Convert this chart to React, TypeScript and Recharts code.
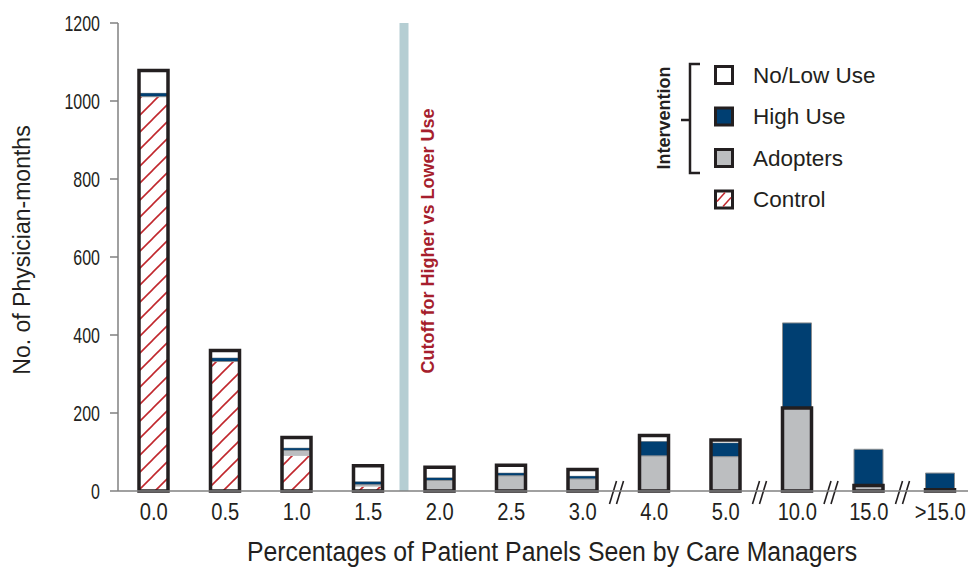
import { BarChart, Bar, XAxis, YAxis, ReferenceLine, Label } from "recharts";

const categories = ["0.0", "0.5", "1.0", "1.5", "2.0", "2.5", "3.0", "4.0", "5.0", "10.0", "15.0", ">15.0"];
const controlValues = [1011, 332, 90, 11, 0, 0, 0, 0, 0, 0, 0, 0];
const adopterValues = [0, 0, 14, 5, 27, 39, 31, 90, 88, 213, 14, 3];
const highUseValues = [10, 10, 7, 9, 8, 8, 8, 38, 36, 218, 93, 43];
const lowUseValues = [57, 18, 26, 40, 26, 19, 16, 14, 7, 0, 0, 0];
const yTicks = [0, 200, 400, 600, 800, 1000, 1200];
const axisBreaks = ["3.0", "5.0", "10.0", "15.0"];
const cutoffAfter = "1.5";

const legendItems = [
  { name: "No/Low Use", fill: "#ffffff" },
  { name: "High Use", fill: "#003f72" },
  { name: "Adopters", fill: "#bcbec0" },
  { name: "Control", fill: "hatch" },
];

const INK = "#231f20";
const BLUE = "#003f72";
const GRAY = "#bcbec0";
const RED = "#a61e2d";
const SANS = "'Liberation Sans', Arial, sans-serif";

const data = categories.map((cat, i) => {
  const total = controlValues[i] + adopterValues[i] + highUseValues[i] + lowUseValues[i];
  return {
    cat,
    control: controlValues[i],
    adopters: adopterValues[i],
    high: highUseValues[i],
    low: lowUseValues[i],
    // the thick frame leaves the high-use block outside when nothing sits on top of it
    outline: lowUseValues[i] > 0 ? total : controlValues[i] + adopterValues[i],
  };
});

// condensed look: no narrow face installed, so squeeze horizontally
function NarrowText({ x, y, size, squeeze, anchor, rotate, children, weight }: any) {
  const r = rotate ? ` rotate(${rotate})` : "";
  return (
    <text
      transform={`translate(${x} ${y})${r} scale(${squeeze} 1)`}
      textAnchor={anchor}
      dominantBaseline="central"
      fontFamily={SANS}
      fontSize={size}
      fontWeight={weight}
      fill={INK}
    >
      {children}
    </text>
  );
}

function XTick(props: any) {
  const { x, y, payload } = props;
  return (
    <NarrowText x={x} y={y + 13} size={24} squeeze={0.84} anchor="middle">
      {payload.value}
    </NarrowText>
  );
}

function YTick(props: any) {
  const { x, y, payload } = props;
  return (
    <NarrowText x={x - 8} y={y} size={22.5} squeeze={0.71} anchor="end">
      {payload.value}
    </NarrowText>
  );
}

function BreakMark(props: any) {
  const { x1, y1, y2 } = props;
  const y = Math.max(y1, y2);
  return (
    <g>
      <rect x={x1 - 8} y={y - 3} width={14} height={6} fill="#fff" />
      <line x1={x1 - 9} y1={y + 13} x2={x1 - 2} y2={y - 10} stroke={INK} strokeWidth={1.6} />
      <line x1={x1 - 2} y1={y + 13} x2={x1 + 5} y2={y - 10} stroke={INK} strokeWidth={1.6} />
    </g>
  );
}

function CutoffLabel(props: any) {
  const { viewBox } = props;
  const x = viewBox.x + 24;
  const y = 241;
  return (
    <text
      x={x}
      y={y}
      transform={`rotate(-90 ${x} ${y})`}
      textAnchor="middle"
      dominantBaseline="central"
      fill={RED}
      fontFamily={SANS}
      fontWeight="bold"
      fontSize={18}
    >
      Cutoff for Higher vs Lower Use
    </text>
  );
}

function LegendBox() {
  return (
    <svg width={300} height={170} style={{ position: "absolute", left: 640, top: 50 }}>
      <text
        x={24}
        y={68}
        transform="rotate(-90 24 68)"
        textAnchor="middle"
        dominantBaseline="central"
        fontFamily={SANS}
        fontWeight="bold"
        fontSize={18}
        fill={INK}
      >
        Intervention
      </text>
      <path d="M60 14 H50 V123 H60 M50 70 H41" fill="none" stroke={INK} strokeWidth={2.5} />
      {legendItems.map((item, i) => {
        const cy = 25 + i * 41.5;
        return (
          <g key={item.name}>
            <rect x={75.5} y={cy - 8.5} width={17} height={17} fill={item.fill === "hatch" ? "#fff" : item.fill} stroke={INK} strokeWidth={3} />
            {item.fill === "hatch" && (
              <g stroke="#c1272d" strokeWidth={1.5}>
                <line x1={77} y1={cy + 2} x2={85} y2={cy - 7} />
                <line x1={83} y1={cy + 7} x2={91} y2={cy - 2} />
              </g>
            )}
            <text x={113} y={cy} dominantBaseline="central" fontFamily={SANS} fontSize={22.5} fill={INK}>
              {item.name}
            </text>
          </g>
        );
      })}
    </svg>
  );
}

export default function App() {
  return (
    <div style={{ position: "fixed", left: 0, top: 0, width: 968, height: 570, overflow: "hidden", background: "#fff" }}>
      <BarChart
        width={990}
        height={570}
        data={data}
        margin={{ top: 23, right: 14, bottom: 0, left: 0 }}
        barSize={29}
        barGap={-29}
      >
        <defs>
          <pattern id="hatch" patternUnits="userSpaceOnUse" width={17} height={17}>
            <rect width={17} height={17} fill="#fff" />
            <line x1={0} y1={17} x2={17} y2={0} stroke="#c1272d" strokeWidth={1.6} />
            <line x1={-2} y1={2} x2={2} y2={-2} stroke="#c1272d" strokeWidth={1.6} />
            <line x1={15} y1={19} x2={19} y2={15} stroke="#c1272d" strokeWidth={1.6} />
          </pattern>
        </defs>
        <XAxis
          dataKey="cat"
          interval={0}
          height={79}
          tickLine={false}
          axisLine={{ stroke: "#808080", strokeWidth: 1.5 }}
          tick={<XTick />}
        >
          <Label
            content={() => (
              <NarrowText x={552} y={552} size={27} squeeze={0.92} anchor="middle">
                Percentages of Patient Panels Seen by Care Managers
              </NarrowText>
            )}
          />
        </XAxis>
        <YAxis
          width={118}
          domain={[0, 1200]}
          ticks={yTicks}
          interval={0}
          tickSize={8}
          tickLine={{ stroke: "#808080", strokeWidth: 1.5 }}
          axisLine={{ stroke: "#808080", strokeWidth: 1.5 }}
          tick={<YTick />}
        >
          <Label
            content={() => (
              <text x={22} y={250} transform="rotate(-90 22 250)" textAnchor="middle" dominantBaseline="central" fontFamily={SANS} fontSize={23} fill={INK}>
                No. of Physician-months
              </text>
            )}
          />
        </YAxis>
        <ReferenceLine x={cutoffAfter} position="end" stroke="#b5ced3" strokeWidth={9} label={<CutoffLabel />} />
        <Bar dataKey="control" stackId="s" fill="url(#hatch)" isAnimationActive={false} />
        <Bar dataKey="adopters" stackId="s" fill={GRAY} isAnimationActive={false} />
        <Bar dataKey="high" stackId="s" fill={BLUE} stroke="#8a8d8f" strokeWidth={1} isAnimationActive={false} />
        <Bar dataKey="low" stackId="s" fill="#fff" isAnimationActive={false} />
        <Bar dataKey="outline" stackId="o" fill="none" stroke={INK} strokeWidth={3.5} isAnimationActive={false} />
        {axisBreaks.map((b) => (
          <ReferenceLine key={b} x={b} position="end" stroke="none" shape={<BreakMark />} />
        ))}
      </BarChart>
      <LegendBox />
    </div>
  );
}
